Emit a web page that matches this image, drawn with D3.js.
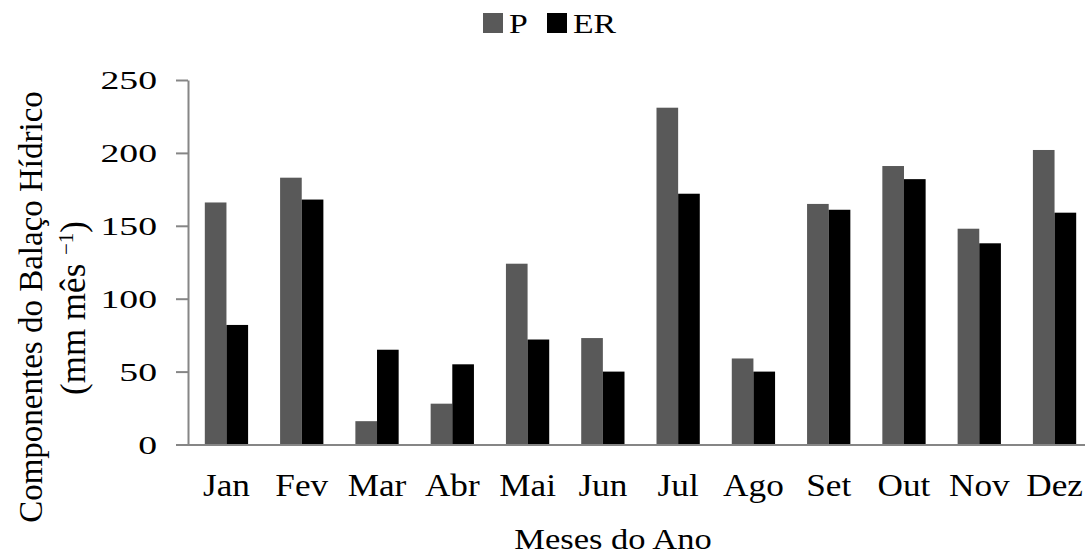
<!DOCTYPE html>
<html>
<head>
<meta charset="utf-8">
<script src="https://cdn.jsdelivr.net/npm/d3@7"></script>
<style>
    body { margin: 0; background: #fff; }
    text { font-family: "Liberation Serif", "Times New Roman", serif; fill: #000; }
</style>
</head>
<body>
<svg id="chart" width="1085" height="558"></svg>
<script>
// monthly water balance components
var months = ["Jan", "Fev", "Mar", "Abr", "Mai", "Jun", "Jul", "Ago", "Set", "Out", "Nov", "Dez"];
var seriesNames = ["P", "ER"];
var pValues = [166, 183, 16, 28, 124, 73, 231, 59, 165, 191, 148, 202];
var erValues = [82, 168, 65, 55, 72, 50, 172, 50, 161, 182, 138, 159];
var yTicks = [0, 50, 100, 150, 200, 250];
var colors = ["#595959", "#000000"];

var svg = d3.select("#chart");

var rows = months.map(function(m, i) {
    return { month: m, values: [pValues[i], erValues[i]] };
});

var x = d3.scaleBand()
    .domain(months)
    .range([189, 1092])
    .paddingInner(0.425)
    .paddingOuter(0.21);

var xSeries = d3.scaleBand()
    .domain(seriesNames)
    .range([0, x.bandwidth()]);

var y = d3.scaleLinear()
    .domain([0, 250])
    .range([444.5, 80]);

// bars
var groups = svg.selectAll(".month")
    .data(rows)
    .enter().append("g")
    .attr("class", "month")
    .attr("transform", function(d) { return "translate(" + x(d.month) + ",0)"; });

groups.selectAll("rect")
    .data(function(d) { return d.values.map(function(v, j) { return { name: seriesNames[j], value: v, color: colors[j] }; }); })
    .enter().append("rect")
    .attr("x", function(d) { return xSeries(d.name); })
    .attr("y", function(d) { return y(d.value); })
    .attr("width", xSeries.bandwidth())
    .attr("height", function(d) { return y(0) - y(d.value); })
    .style("fill", function(d) { return d.color; });

// y axis
var yAxis = svg.append("g")
    .attr("transform", "translate(188,0)")
    .call(d3.axisLeft(y).tickValues(yTicks).tickSize(12).tickSizeOuter(0));

yAxis.select(".domain").attr("stroke", "#868686").attr("stroke-width", 2);
yAxis.selectAll(".tick line").attr("stroke", "#868686").attr("stroke-width", 2);
yAxis.selectAll(".tick text")
    .attr("x", null)
    .attr("dy", "0.34em")
    .attr("transform", "translate(-31,0) scale(1.45,1)")
    .style("font-size", "26px")
    .style("font-family", "Liberation Serif");

// x axis
var xAxis = svg.append("g")
    .attr("transform", "translate(0,445)")
    .call(d3.axisBottom(x).tickSize(0).tickSizeOuter(0));

xAxis.select(".domain").remove();
xAxis.selectAll(".tick text")
    .attr("y", null)
    .attr("dy", null)
    .attr("transform", "translate(0,51) scale(1.1,1)")
    .style("font-size", "32px")
    .style("font-family", "Liberation Serif");

svg.append("line")
    .attr("x1", 176).attr("x2", 1085)
    .attr("y1", 445).attr("y2", 445)
    .attr("stroke", "#868686")
    .attr("stroke-width", 2);

// axis titles
svg.append("text")
    .attr("transform", "translate(613,549) scale(1.15,1)")
    .attr("text-anchor", "middle")
    .style("font-size", "30px")
    .text("Meses do Ano");

svg.append("text")
    .attr("transform", "translate(42,307) rotate(-90)")
    .attr("text-anchor", "middle")
    .style("font-size", "33px")
    .text("Componentes do Balaço Hídrico");

var unit = svg.append("text")
    .attr("transform", "translate(85,308) rotate(-90)")
    .attr("text-anchor", "middle")
    .style("font-size", "35px");
unit.append("tspan").text("(mm mês ");
unit.append("tspan").attr("baseline-shift", "super").style("font-size", "21px").text("−1");
unit.append("tspan").text(")");

// legend
var legendX = [483, 547];
var legend = svg.selectAll(".legend")
    .data(seriesNames)
    .enter().append("g")
    .attr("class", "legend")
    .attr("transform", function(d, i) { return "translate(" + legendX[i] + ",13)"; });

legend.append("rect")
    .attr("width", 20)
    .attr("height", 20)
    .style("fill", function(d, i) { return colors[i]; });

legend.append("text")
    .attr("transform", "translate(26,20) scale(1.25,1)")
    .style("font-size", "27px")
    .text(function(d) { return d; });
</script>
</body>
</html>
